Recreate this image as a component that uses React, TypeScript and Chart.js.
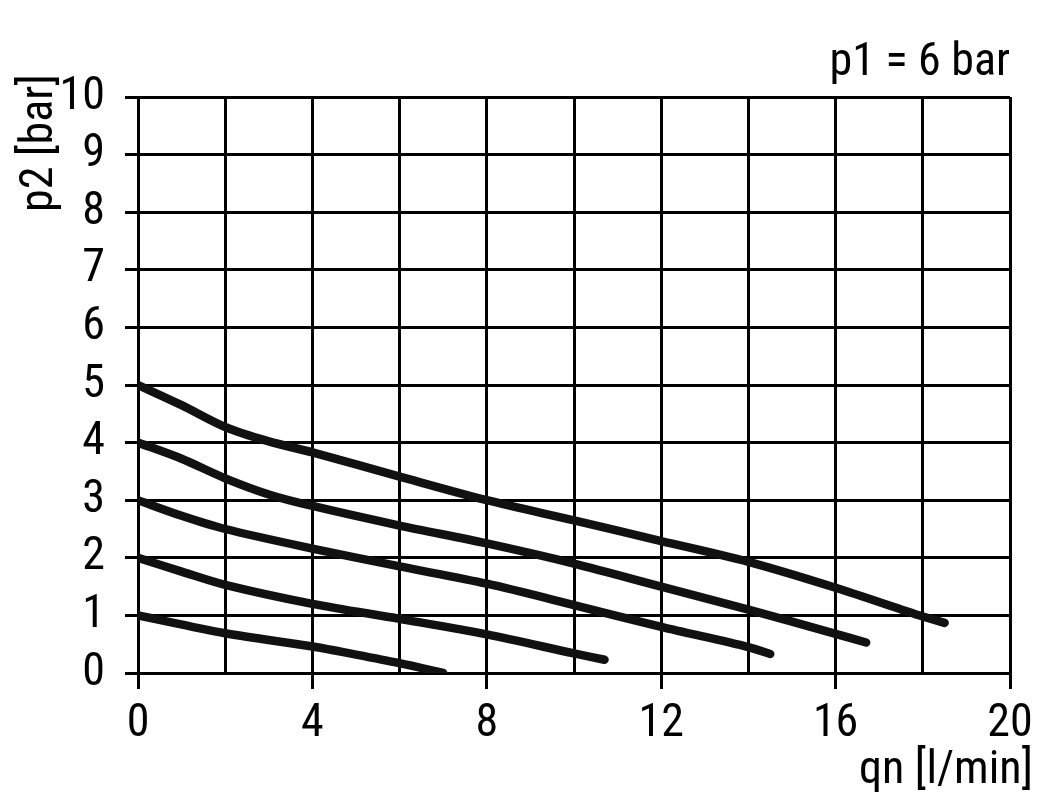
import React, { useEffect, useRef } from "react";
import { Chart, registerables } from "chart.js";

Chart.register(...registerables);

const FONT = '"Roboto Condensed", "Liberation Sans Narrow", "Arial Narrow", sans-serif';

// qn [l/min] and p2 [bar] for each set pressure curve
const qn5 = [0, 1, 2, 3, 4, 6, 8, 10, 12, 14, 16, 18, 18.5];
const p5 = [5, 4.65, 4.27, 4.02, 3.83, 3.41, 3.0, 2.65, 2.29, 1.93, 1.48, 0.98, 0.87];

const qn4 = [0, 1, 2, 3, 4, 6, 8, 10, 12, 14, 16, 16.7];
const p4 = [4, 3.72, 3.38, 3.1, 2.9, 2.56, 2.25, 1.9, 1.5, 1.1, 0.68, 0.53];

const qn3 = [0, 1, 2, 4, 6, 8, 10, 12, 14, 14.5];
const p3 = [3, 2.73, 2.5, 2.16, 1.85, 1.55, 1.18, 0.8, 0.45, 0.33];

const qn2 = [0, 1, 2, 4, 6, 8, 10, 10.7];
const p2 = [2, 1.76, 1.53, 1.2, 0.94, 0.67, 0.34, 0.23];

const qn1 = [0, 2, 4, 5, 6, 7];
const p1 = [1, 0.69, 0.46, 0.32, 0.17, 0];

const curves = [
  [qn5, p5],
  [qn4, p4],
  [qn3, p3],
  [qn2, p2],
  [qn1, p1],
];

const TITLE_TOP = "p1 = 6 bar";
const TITLE_X = "qn [l/min]";
const TITLE_Y = "p2 [bar]";

const textPlugin = {
  id: "texts",
  afterDraw(chart: any) {
    const ctx = chart.ctx;
    const { left, right, top, bottom } = chart.chartArea;
    ctx.save();
    ctx.fillStyle = "#000";
    ctx.font = `46px ${FONT}`;
    ctx.textBaseline = "alphabetic";
    ctx.textAlign = "right";
    ctx.fillText(TITLE_TOP, right, top - 22);
    ctx.fillText(TITLE_X, right + 23, bottom + 110);
    ctx.translate(left - 86, top + 115);
    ctx.rotate(-Math.PI / 2);
    ctx.textAlign = "left";
    ctx.fillText(TITLE_Y, 0, 0);
    ctx.restore();
  },
};

export default function App() {
  const ref = useRef<HTMLCanvasElement>(null);

  useEffect(() => {
    document.body.style.margin = "0";
    const canvas = ref.current!;
    const chart = new Chart(canvas, {
      type: "line",
      data: {
        datasets: curves.map(([xs, ys]) => ({
          data: xs.map((x, i) => ({ x, y: ys[i] })),
          borderColor: "#111",
          borderWidth: 8.5,
          borderCapStyle: "round",
          borderJoinStyle: "round",
          pointRadius: 0,
          tension: 0.3,
          fill: false,
        })),
      },
      options: {
        animation: false,
        responsive: false,
        maintainAspectRatio: false,
        layout: { padding: { top: 97, right: 41, left: 0, bottom: 0 } },
        plugins: {
          legend: { display: false },
          tooltip: { enabled: false },
          title: { display: false },
        },
        scales: {
          x: {
            type: "linear",
            min: 0,
            max: 20,
            ticks: {
              stepSize: 2,
              color: "#000",
              padding: 8,
              maxRotation: 0,
              autoSkip: false,
              font: { family: FONT, size: 46 },
              callback: (v: any) => (Number(v) % 4 === 0 ? String(v) : ""),
            },
            grid: {
              color: "#000",
              lineWidth: 3,
              tickLength: 16,
              tickColor: (c: any) => (c.tick && c.tick.value % 4 === 0 ? "#000" : "rgba(0,0,0,0)"),
            },
            border: { color: "#000", width: 3 },
            afterFit: (s: any) => {
              s.height = 130;
            },
          },
          y: {
            type: "linear",
            min: 0,
            max: 10,
            ticks: {
              stepSize: 1,
              autoSkip: false,
              color: "#000",
              padding: 20,
              font: { family: FONT, size: 46 },
            },
            grid: { color: "#000", lineWidth: 3, tickLength: 13 },
            border: { color: "#000", width: 3 },
            afterFit: (s: any) => {
              s.width = 138;
            },
          },
        },
      },
      plugins: [textPlugin],
    } as any);
    return () => chart.destroy();
  }, []);

  return (
    <div style={{ position: "fixed", left: 0, top: 0, width: 1051, height: 803, background: "#fff" }}>
      <canvas ref={ref} width={1051} height={803} style={{ width: 1051, height: 803 }} />
    </div>
  );
}
